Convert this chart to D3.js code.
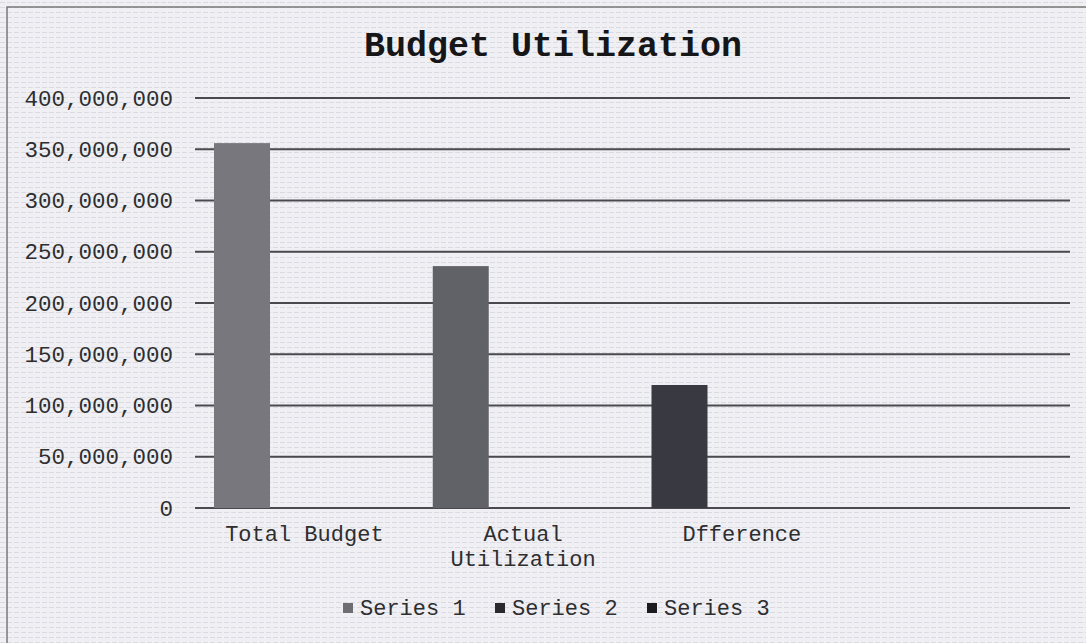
<!DOCTYPE html>
<html>
<head>
<meta charset="utf-8">
<script src="https://cdn.jsdelivr.net/npm/d3@7"></script>
<style>
  html, body { margin: 0; padding: 0; background: #eeeef2; }
  svg { display: block; }
  text { font-family: "Liberation Mono", "Courier New", monospace; }
</style>
</head>
<body>
<svg id="chart"></svg>
<script>
const categories = ['Total Budget', 'Actual Utilization', 'Dfference', ''];
const seriesNames = ['Series 1', 'Series 2', 'Series 3'];
const series1 = [356000000, 236000000, 120000000, null];
const series2 = [null, null, null, null];
const series3 = [null, null, null, null];
const yTicks = [0, 50000000, 100000000, 150000000, 200000000, 250000000, 300000000, 350000000, 400000000];
const barColors = ['#77777d', '#616168', '#393941'];
const legendColors = ['#6e6e72', '#2a2a2e', '#1c1c20'];

const width = 1086;
const height = 643;
const margin = {top: 98, right: 16, bottom: 135, left: 195};

const svg = d3.select('#chart')
  .attr('width', width)
  .attr('height', height);

// scanned paper look
const defs = svg.append('defs');
const pat = defs.append('pattern')
  .attr('id', 'scan')
  .attr('width', 7)
  .attr('height', 5)
  .attr('patternUnits', 'userSpaceOnUse');
pat.append('rect').attr('width', 7).attr('height', 5).attr('fill', '#f0f0f4');
pat.append('rect').attr('y', 2).attr('width', 5).attr('height', 1).attr('fill', '#dadae1');

svg.append('rect')
  .attr('width', width)
  .attr('height', height)
  .attr('fill', 'url(#scan)');

// chart border
svg.append('path')
  .attr('d', `M7,${height} L7,7 L${width},7`)
  .attr('fill', 'none')
  .attr('stroke', '#777')
  .attr('stroke-width', 1.5);

const x0 = d3.scaleBand()
  .domain(categories.map((c, i) => i))
  .range([margin.left, width - margin.right])
  .paddingInner(0)
  .paddingOuter(0);

const x1 = d3.scaleBand()
  .domain(seriesNames)
  .range([19, 19 + 168])
  .padding(0);

const y = d3.scaleLinear()
  .domain([0, 400000000])
  .range([height - margin.bottom, margin.top]);

// gridlines
svg.append('g')
  .selectAll('line')
  .data(yTicks)
  .enter()
  .append('line')
  .attr('x1', margin.left)
  .attr('x2', width - margin.right)
  .attr('y1', d => y(d))
  .attr('y2', d => y(d))
  .attr('stroke', '#4a4a4e')
  .attr('stroke-width', 1.8);

// y axis labels
const yAxis = d3.axisLeft(y)
  .tickValues(yTicks)
  .tickSize(0)
  .tickPadding(22)
  .tickFormat(d3.format(','));

svg.append('g')
  .attr('transform', `translate(${margin.left},0)`)
  .call(yAxis)
  .call(g => g.select('.domain').remove())
  .call(g => g.selectAll('text')
    .attr('fill', '#2e2e30')
    .style('font-size', '22.5px')
    .style('font-family', '"Liberation Mono", monospace'));

// bars
const allSeries = [series1, series2, series3];
allSeries.forEach((vals, si) => {
  svg.append('g')
    .selectAll('rect')
    .data(vals.map((v, i) => ({v, i})).filter(d => d.v != null))
    .enter()
    .append('rect')
    .attr('x', d => x0(d.i) + x1(seriesNames[si]))
    .attr('width', x1.bandwidth())
    .attr('y', d => y(d.v))
    .attr('height', d => y(0) - y(d.v))
    .attr('fill', d => si === 0 ? barColors[d.i] : legendColors[si]);
});

// category labels
const catG = svg.append('g');
categories.forEach((c, i) => {
  const words = c.length > 14 ? c.split(' ') : [c];
  const t = catG.append('text')
    .attr('x', x0(i) + x0.bandwidth() / 2)
    .attr('y', 541)
    .attr('text-anchor', 'middle')
    .attr('fill', '#2e2e30')
    .style('font-size', '22px');
  words.forEach((w, k) => {
    t.append('tspan')
      .attr('x', x0(i) + x0.bandwidth() / 2)
      .attr('dy', k === 0 ? 0 : 25)
      .text(w);
  });
});

// title
svg.append('text')
  .attr('x', 553)
  .attr('y', 56)
  .attr('text-anchor', 'middle')
  .attr('fill', '#161618')
  .style('font-size', '35px')
  .style('font-weight', 'bold')
  .text('Budget Utilization');

// legend
const legend = svg.append('g');
seriesNames.forEach((s, i) => {
  const lx = 343 + i * 152;
  legend.append('rect')
    .attr('x', lx)
    .attr('y', 603)
    .attr('width', 10)
    .attr('height', 10)
    .attr('fill', legendColors[i]);
  legend.append('text')
    .attr('x', lx + 17)
    .attr('y', 615)
    .attr('fill', '#2e2e30')
    .style('font-size', '22px')
    .text(s);
});
</script>
</body>
</html>
